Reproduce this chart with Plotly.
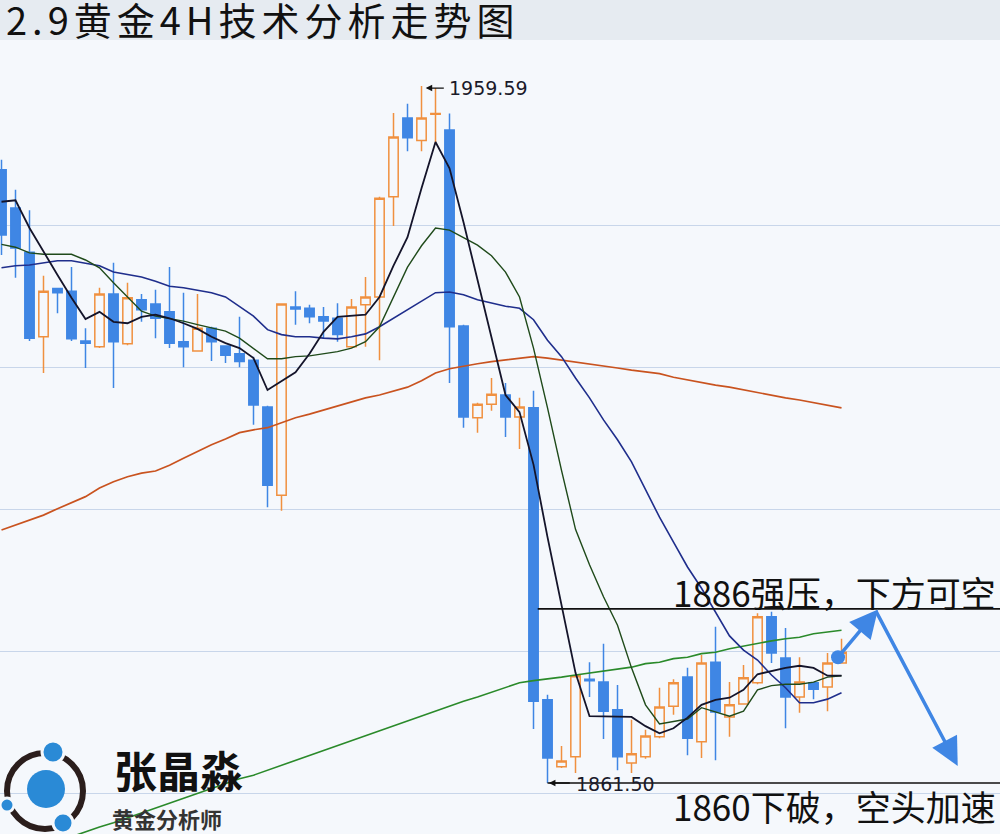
import plotly.graph_objects as go

# ---------------- data ----------------
bar_index = list(range(61))

open_ = [1947.8, 1942.4, 1936.2, 1924.3, 1931.1, 1930.7, 1923.7, 1922.9, 1930.3, 1923.3,
         1929.5, 1928.9, 1927.8, 1923.6, 1922.3, 1925.5, 1923.0, 1921.9, 1921.0, 1914.4,
         1902.0, 1928.5, 1928.3, 1927.1, 1926.9, 1922.9, 1928.8, 1929.9, 1944.0, 1955.1,
         1951.9, 1955.6, 1953.4, 1925.8, 1912.9, 1914.8, 1916.1, 1913.0, 1914.3, 1873.2,
         1863.8, 1865.2, 1876.1, 1875.7, 1871.8, 1864.3, 1865.2, 1868.0, 1872.3, 1876.4,
         1867.3, 1878.5, 1870.8, 1872.6, 1875.6, 1884.9, 1879.1, 1873.6, 1875.6, 1875.0,
         1878.4]
high = [1949.2, 1945.0, 1942.1, 1932.9, 1931.2, 1934.1, 1925.5, 1931.2, 1934.7, 1931.9,
        1930.3, 1930.9, 1934.1, 1930.5, 1930.3, 1925.7, 1923.1, 1927.1, 1921.5, 1914.6,
        1929.0, 1930.7, 1928.8, 1928.5, 1929.0, 1929.6, 1932.7, 1944.0, 1955.8, 1957.1,
        1959.59, 1959.3, 1955.7, 1926.0, 1915.0, 1918.5, 1917.8, 1915.7, 1916.7, 1873.9,
        1866.7, 1876.7, 1878.5, 1881.1, 1875.3, 1870.4, 1869.0, 1874.9, 1876.1, 1877.7,
        1879.5, 1883.5, 1875.7, 1878.1, 1885.4, 1885.6, 1883.3, 1879.2, 1875.7, 1879.8,
        1881.8]
low = [1935.8, 1932.6, 1923.7, 1919.2, 1927.6, 1923.7, 1919.9, 1922.7, 1917.1, 1923.1,
       1926.4, 1924.1, 1922.7, 1920.0, 1922.2, 1920.9, 1920.6, 1920.0, 1911.9, 1900.3,
       1899.8, 1926.0, 1926.2, 1924.1, 1923.6, 1922.7, 1922.9, 1921.0, 1939.9, 1950.4,
       1950.4, 1951.7, 1917.8, 1911.5, 1910.8, 1913.9, 1910.2, 1908.5, 1869.1, 1861.5,
       1863.6, 1862.9, 1873.6, 1867.7, 1863.3, 1862.9, 1864.9, 1867.8, 1871.1, 1865.4,
       1865.0, 1864.7, 1868.0, 1872.5, 1875.4, 1878.4, 1869.2, 1871.4, 1873.3, 1871.6,
       1878.3]
close = [1938.6, 1936.8, 1924.1, 1930.7, 1930.5, 1924.0, 1923.4, 1930.3, 1923.6, 1929.8,
         1928.1, 1926.9, 1923.4, 1922.9, 1925.5, 1923.6, 1921.7, 1920.8, 1914.7, 1903.4,
         1928.9, 1928.2, 1927.1, 1926.5, 1924.6, 1928.5, 1929.9, 1943.8, 1952.4, 1952.3,
         1955.1, 1955.7, 1925.7, 1913.0, 1914.8, 1916.2, 1913.0, 1914.4, 1873.0, 1865.0,
         1864.6, 1876.6, 1875.9, 1871.6, 1865.2, 1865.6, 1868.1, 1872.2, 1875.6, 1867.8,
         1878.4, 1871.5, 1872.5, 1876.3, 1884.9, 1879.8, 1873.6, 1875.7, 1874.7, 1878.4,
         1879.9]

ma5 = [1943.3, 1943.5, 1939.6, 1936.2, 1933.0, 1929.8, 1926.8, 1927.8, 1926.4, 1926.2,
       1927.1, 1927.4, 1926.9, 1926.2, 1925.4, 1924.3, 1923.4, 1922.7, 1921.3, 1916.8,
       1918.1, 1919.3, 1921.9, 1925.0, 1927.1, 1927.2, 1927.4, 1929.9, 1934.3, 1938.3,
       1945.2, 1951.7, 1948.0, 1940.4, 1932.3, 1923.8, 1916.1, 1913.7, 1906.3, 1896.1,
       1886.3, 1877.0, 1870.9, 1870.9, 1870.9, 1870.8, 1869.5, 1868.5, 1869.2, 1870.7,
       1872.5, 1873.2, 1873.5, 1874.6, 1876.8, 1877.3, 1877.7, 1878.0, 1877.7, 1876.6,
       1876.6]
ma10 = [1937.3, 1936.9, 1936.1, 1935.9, 1935.9, 1935.9, 1935.1, 1934.0, 1931.9, 1929.9,
        1927.9, 1927.2, 1926.9, 1926.5, 1926.0, 1925.5, 1925.1, 1924.1, 1922.7, 1921.2,
        1921.2, 1921.5, 1921.6, 1921.9, 1922.2, 1922.7, 1923.6, 1925.7, 1930.0, 1934.1,
        1937.1, 1939.6, 1939.3, 1938.3, 1937.2, 1935.7, 1933.4, 1929.9, 1922.7, 1914.3,
        1905.5, 1897.2, 1892.2, 1887.7, 1883.7, 1877.7, 1872.5, 1869.8, 1870.2, 1870.5,
        1872.1, 1871.5, 1870.9, 1871.6, 1874.6, 1875.2, 1875.4, 1875.4, 1875.7, 1876.4,
        1876.6]
ma20 = [1934.0, 1934.3, 1934.4, 1934.7, 1935.0, 1935.0, 1934.7, 1934.3, 1933.4, 1933.0,
        1932.7, 1932.1, 1931.4, 1931.2, 1930.9, 1930.5, 1929.9, 1928.6, 1927.2, 1925.3,
        1924.6, 1924.3, 1924.3, 1924.1, 1924.0, 1924.3, 1924.7, 1925.7, 1926.9, 1928.1,
        1929.2, 1930.5, 1930.6, 1930.2, 1929.5, 1929.0, 1928.6, 1928.3, 1926.7, 1923.8,
        1921.5, 1918.5, 1915.7, 1912.6, 1909.8, 1906.7, 1902.7, 1898.9, 1895.4, 1891.9,
        1888.9, 1885.6, 1882.2, 1880.2, 1878.8, 1876.7, 1874.9, 1872.8, 1872.8, 1873.3,
        1874.2]
ma60 = [1897.1, 1897.8, 1898.5, 1899.2, 1900.1, 1900.9, 1901.8, 1903.0, 1903.9, 1904.6,
        1905.1, 1905.4, 1906.2, 1907.2, 1908.2, 1909.1, 1909.9, 1910.8, 1911.2, 1911.5,
        1912.2, 1912.9, 1913.4, 1914.0, 1914.6, 1915.1, 1915.7, 1916.1, 1916.7, 1917.2,
        1918.1, 1919.2, 1919.8, 1920.2, 1920.5, 1920.8, 1921.0, 1921.3, 1921.5, 1921.3,
        1921.0, 1920.8, 1920.5, 1920.2, 1919.9, 1919.6, 1919.3, 1919.1, 1918.6, 1918.2,
        1917.9, 1917.5, 1917.2, 1916.8, 1916.5, 1916.1, 1915.7, 1915.4, 1915.0, 1914.7,
        1914.3]
ma120 = [1850.7, 1851.2, 1851.9, 1852.6, 1853.3, 1853.9, 1854.6, 1855.3, 1855.9, 1856.6,
         1857.3, 1858.0, 1858.7, 1859.3, 1860.0, 1860.7, 1861.4, 1862.1, 1862.6, 1863.3,
         1863.9, 1864.6, 1865.3, 1866.0, 1866.7, 1867.4, 1868.1, 1868.8, 1869.5, 1870.2,
         1870.9, 1871.6, 1872.3, 1873.0, 1873.6, 1874.3, 1875.0, 1875.6, 1875.9, 1876.1,
         1876.4, 1876.7, 1877.0, 1877.3, 1877.5, 1877.8, 1878.3, 1878.5, 1879.0, 1879.2,
         1879.7, 1879.9, 1880.4, 1880.8, 1881.1, 1881.5, 1881.8, 1882.0, 1882.5, 1882.8,
         1883.0]

grid_prices = [1860, 1880, 1900, 1920, 1940]
high_label, low_label = 1959.59, 1861.50
resistance, support = 1886.0, 1861.5
resistance_from, support_from = 38.3, 39.0
forecast_x = [59.75, 62.6, 68.3]
forecast_y = [1879.2, 1885.9, 1863.9]

title_text = "2.9黄金4H技术分析走势图"
note_top = "1886强压，下方可空"
note_bottom = "1860下破，空头加速"
logo_name = "张晶淼"
logo_sub = "黄金分析师"

# ---------------- style ----------------
BLUE = "#3f86e4"
ORANGE = "#f0903f"
PLOT_BG = "#f5f8fc"
BAND_BG = "#e6ebf1"
CJK = "Noto Sans CJK SC"
TITLE_SPACING = 5  # px between title glyphs

fig = go.Figure()
fig.add_trace(go.Candlestick(
    x=bar_index, open=open_, high=high, low=low, close=close,
    increasing=dict(line=dict(color=ORANGE, width=1.5), fillcolor="rgba(0,0,0,0)"),
    decreasing=dict(line=dict(color=BLUE, width=1.5), fillcolor=BLUE),
    whiskerwidth=0, showlegend=False, hoverinfo="skip"))

for vals, col, w in [(ma60, "#c9531f", 1.7), (ma120, "#2a8a2a", 1.6),
                     (ma20, "#1f2e8c", 1.6), (ma10, "#1f4a1a", 1.4),
                     (ma5, "#14142a", 1.8)]:
    fig.add_trace(go.Scatter(x=bar_index, y=vals, mode="lines",
                             line=dict(color=col, width=w), showlegend=False,
                             hoverinfo="skip"))

# forecast dot
fig.add_trace(go.Scatter(x=forecast_x[:1], y=forecast_y[:1], mode="markers",
                         marker=dict(color=BLUE, size=14), showlegend=False,
                         hoverinfo="skip"))

shapes = []
# key horizontal levels
shapes.append(dict(type="line", xref="x", yref="y", x0=resistance_from, x1=72,
                   y0=resistance, y1=resistance, line=dict(color="#111", width=1.6)))
shapes.append(dict(type="line", xref="x", yref="y", x0=support_from, x1=72,
                   y0=support, y1=support, line=dict(color="#111", width=1.6)))

# logo (decorative)
def circ(cx, cy, r, fill, line_col=None, lw=0):
    return dict(type="circle", xref="paper", yref="paper", xsizemode="pixel",
                ysizemode="pixel", xanchor=cx, yanchor=cy, x0=-r, x1=r, y0=-r, y1=r,
                fillcolor=fill, line=dict(color=line_col or fill, width=lw), layer="above")

shapes.append(circ(0.045, 0.0542, 38, "rgba(0,0,0,0)", "#2b1e1c", 6))
shapes.append(circ(0.046, 0.0567, 19, "#2a8ad6"))
shapes.append(circ(0.053, 0.1033, 11, "#2a8ad6", PLOT_BG, 3))
shapes.append(circ(0.063, 0.0139, 10, "#2a8ad6", PLOT_BG, 3))
shapes.append(circ(0.007, 0.0365, 7, "#2a8ad6", PLOT_BG, 3))

annotations = []
annotations.append(dict(text=title_text, xref="paper", yref="paper", x=0.004,
                        y=1 + 21 / 794, xanchor="left", yanchor="middle",
                        showarrow=False, font=dict(family=CJK, size=38, color="#111")))
# high / low markers
annotations.append(dict(text="", x=30.3, y=1959.3, ax=31.7, ay=1959.3,
                        axref="x", ayref="y", showarrow=True, arrowhead=2,
                        arrowsize=1, arrowwidth=1.3, arrowcolor="#111"))
annotations.append(dict(text=f"{high_label:.2f}", x=31.8, y=1959.3, xanchor="left",
                        yanchor="middle", showarrow=False,
                        font=dict(family="DejaVu Sans", size=19, color="#1a1a2a")))
annotations.append(dict(text="", x=39.1, y=low_label, ax=40.7, ay=low_label,
                        axref="x", ayref="y", showarrow=True, arrowhead=2,
                        arrowsize=1, arrowwidth=1.3, arrowcolor="#111"))
annotations.append(dict(text=f"{low_label:.2f}", x=40.9, y=low_label - 0.2,
                        xanchor="left", yanchor="middle", showarrow=False,
                        font=dict(family="DejaVu Sans", size=19, color="#1a1a2a")))
# notes
annotations.append(dict(text=note_top, x=47.8, y=1888.4, xanchor="left",
                        yanchor="middle", showarrow=False,
                        font=dict(family=CJK, size=35, color="#111")))
annotations.append(dict(text=note_bottom, x=47.8, y=1858.4, xanchor="left",
                        yanchor="middle", showarrow=False,
                        font=dict(family=CJK, size=35, color="#111")))
# forecast arrows
annotations.append(dict(text="", x=forecast_x[1], y=forecast_y[1], ax=forecast_x[0],
                        ay=forecast_y[0], axref="x", ayref="y", showarrow=True,
                        arrowhead=2, arrowsize=1.6, arrowwidth=3.5, arrowcolor=BLUE))
annotations.append(dict(text="", x=forecast_x[2], y=forecast_y[2], ax=forecast_x[1] - 0.2,
                        ay=forecast_y[1], axref="x", ayref="y", showarrow=True,
                        arrowhead=2, arrowsize=1.6, arrowwidth=3.5, arrowcolor=BLUE))
# logo texts
annotations.append(dict(text="<b>" + logo_name + "</b>", xref="paper", yref="paper",
                        x=0.178, y=(834 - 769) / 794, xanchor="center", yanchor="middle",
                        showarrow=False, font=dict(family=CJK, size=43, color="#111")))
annotations.append(dict(text="<b>" + logo_sub + "</b>", xref="paper", yref="paper",
                        x=0.167, y=(834 - 818) / 794, xanchor="center", yanchor="middle",
                        showarrow=False, font=dict(family=CJK, size=22, color="#333")))

fig.update_layout(
    width=1000, height=834,
    margin=dict(l=0, r=0, t=40, b=0, pad=0),
    paper_bgcolor=BAND_BG, plot_bgcolor=PLOT_BG,
    boxgap=0.33, boxgroupgap=0,
    shapes=shapes, annotations=annotations,
    xaxis=dict(range=[-0.107, 71.32], showgrid=False, zeroline=False,
               showticklabels=False, ticks="", rangeslider=dict(visible=False),
               showline=False),
    yaxis=dict(range=[1854.32, 1966.06], tickvals=grid_prices, showgrid=True,
               gridcolor="#c8d6ea", gridwidth=1, zeroline=False,
               showticklabels=False, ticks="", showline=False),
)

shift = TITLE_SPACING * len(title_text) / 2
spacing_js = (
    "document.body.style.margin='0';document.body.style.overflow='hidden';"
    "var gd=document.getElementById('{plot_id}');"
    "gd.querySelectorAll('.annotation-text').forEach(function(t){"
    "if(t.textContent==='" + title_text + "'){"
    "t.style.letterSpacing='" + str(TITLE_SPACING) + "px';"
    "t.setAttribute('x', parseFloat(t.getAttribute('x')||0)+" + str(shift) + ");}});"
)
fig.write_html("out.html", config={"displayModeBar": False}, post_script=spacing_js)
